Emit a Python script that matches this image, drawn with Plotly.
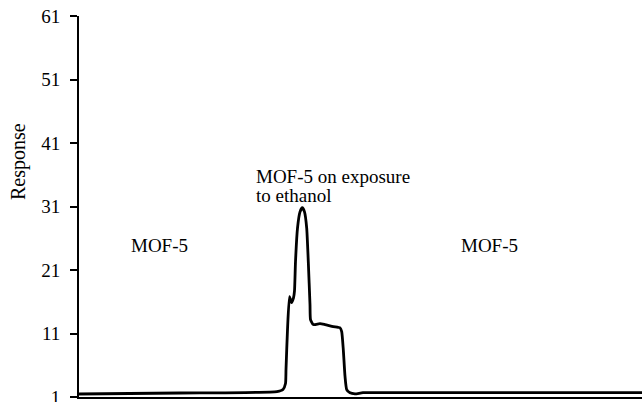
import plotly.graph_objects as go

# time (arbitrary units, no x tick labels in the reference)
time = [0, 101, 198, 204, 206.5, 207, 208.5, 210.5, 212.5, 214.5, 215.5, 216.5, 218.5,
        221, 223.3, 225.5, 227.7, 229.3, 231, 231.5, 234.3, 241, 246, 254.3, 261,
        262.7, 264.3, 266, 267.7, 271, 276, 284, 320, 563]
response = [1.47, 1.63, 1.86, 2.18, 3.12, 5.32, 11.6, 16.8, 15.85, 16.6, 17.7, 22.3, 27.6,
            30.15, 30.8, 30.15, 27.6, 22.3, 15.5, 13.2, 12.4, 12.55, 12.4, 12.1, 11.9,
            11.3, 8.47, 4.27, 2.18, 1.66, 1.5, 1.68, 1.68, 1.68]

y_ticks = [1, 11, 21, 31, 41, 51, 61]

W, H = 642, 402
L, R, T, B = 79, 0, 16, 5
pw, ph = W - L - R, H - T - B

def px(x):
    return (x - L) / pw

def py(y):
    return (H - B - y) / ph

FONT = "Liberation Serif"
f19 = dict(family=FONT, size=19, color="black")

fig = go.Figure()
fig.add_trace(go.Scatter(x=time, y=response, mode="lines",
                         line=dict(color="black", width=2.8, shape="spline", smoothing=0.5),
                         hoverinfo="skip", showlegend=False))

fig.update_layout(
    width=W, height=H,
    margin=dict(l=L, r=R, t=T, b=B, pad=0, autoexpand=False),
    paper_bgcolor="white", plot_bgcolor="white",
    font=f19,
    showlegend=False,
    xaxis=dict(range=[0, 563], showgrid=False, zeroline=False, showticklabels=False,
               ticks="", showline=True, linecolor="black", linewidth=2, automargin=False),
    yaxis=dict(range=[1, 61], tickvals=y_ticks, showgrid=False, zeroline=False,
               ticks="outside", ticklen=7, tickwidth=2, tickcolor="black",
               ticklabelstandoff=6, ticklabeloverflow="allow", automargin=False,
               showline=True, linecolor="black", linewidth=2,
               tickfont=f19),
    annotations=[
        dict(text="Response", x=px(18), y=py(162), xref="paper", yref="paper",
             textangle=-90, showarrow=False, xanchor="center", yanchor="middle",
             font=dict(family=FONT, size=20, color="black")),
        dict(text="MOF-5", x=px(159.5), y=py(245), xref="paper", yref="paper",
             showarrow=False, xanchor="center", yanchor="middle", font=f19),
        dict(text="MOF-5", x=px(489.5), y=py(245), xref="paper", yref="paper",
             showarrow=False, xanchor="center", yanchor="middle", font=f19),
        dict(text="MOF-5 on exposure", x=px(254), y=py(177), xref="paper", yref="paper",
             showarrow=False, xanchor="left", yanchor="middle", font=f19),
        dict(text="to ethanol", x=px(254), y=py(195), xref="paper", yref="paper",
             showarrow=False, xanchor="left", yanchor="middle", font=f19),
    ],
)

fig.write_html("out.html")
